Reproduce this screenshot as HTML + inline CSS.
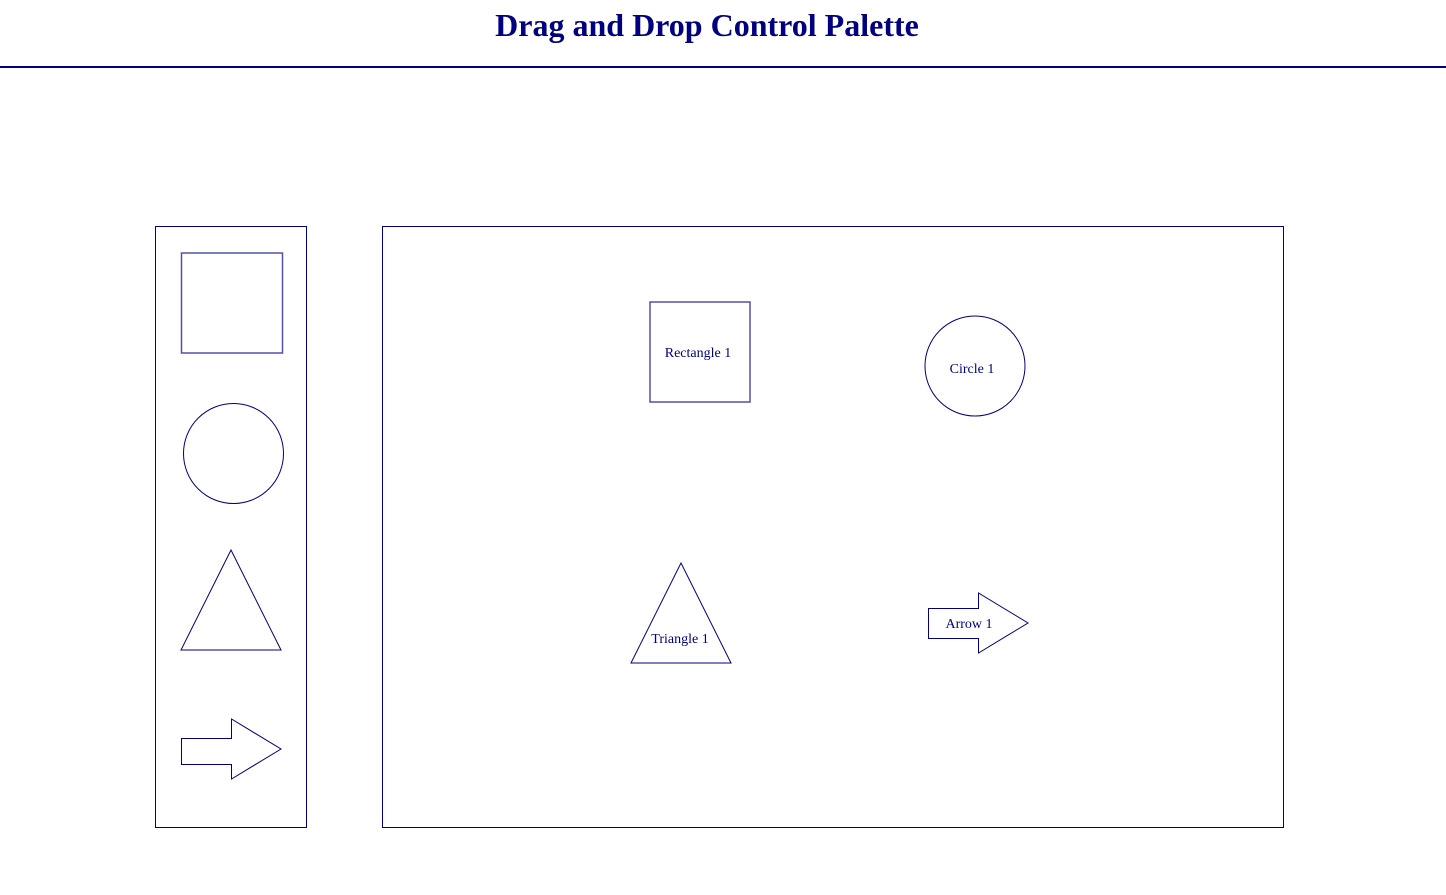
<!DOCTYPE html>
<html><head><meta charset="utf-8"><style>
html,body{margin:0;padding:0;background:#fff;width:1446px;height:895px;overflow:hidden}
svg{display:block}
text{font-family:"Liberation Serif",serif;fill:#000080}
</style></head><body>
<svg width="1446" height="895" viewBox="0 0 1446 895">
<text x="707" y="36" text-anchor="middle" font-size="32" font-weight="bold">Drag and Drop Control Palette</text>
<line x1="0" y1="67" x2="1446" y2="67" stroke="#000080" stroke-width="2"/>
<g fill="none" stroke="#000080" stroke-width="1">
<rect x="155.5" y="226.5" width="151" height="601"/>
<rect x="382.5" y="226.5" width="901" height="601"/>
<rect x="181.5" y="253" width="101" height="100" stroke="#5050a8" stroke-width="1.5"/>
<circle cx="233.5" cy="453.5" r="50"/>
<polygon points="231,550 181,650 281,650"/>
<polygon points="181.5,738.5 231.5,738.5 231.5,719 281,749 231.5,779 231.5,764.5 181.5,764.5"/>
<rect x="650" y="302" width="100" height="100" stroke="#5050a8" stroke-width="1.5"/>
<circle cx="975" cy="366" r="50"/>
<polygon points="681,563 631,663 731,663"/>
<polygon points="928.5,608.5 978.5,608.5 978.5,593 1028,623 978.5,653 978.5,638.5 928.5,638.5"/>
</g>
<g font-size="14" text-anchor="middle">
<text x="698" y="357">Rectangle 1</text>
<text x="972" y="373">Circle 1</text>
<text x="680" y="643">Triangle 1</text>
<text x="969" y="628">Arrow 1</text>
</g>
</svg>
</body></html>
